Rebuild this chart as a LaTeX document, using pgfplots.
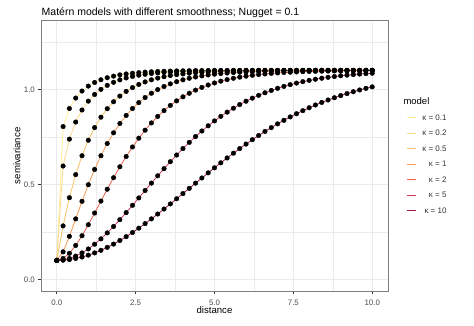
\documentclass[border=0pt]{standalone}
\usepackage{fontspec}
\setmainfont{Liberation Sans}
\usepackage{pgfplots}
\pgfplotsset{compat=1.18}
\usepackage{pgfplotstable}

\definecolor{gridc}{HTML}{EBEBEB}
\definecolor{borderc}{HTML}{7F7F7F}
\definecolor{greyTwenty}{HTML}{333333}
\definecolor{greyThirty}{HTML}{4D4D4D}
\definecolor{matA}{HTML}{FFEE99}
\definecolor{matB}{HTML}{FAD98C}
\definecolor{matC}{HTML}{F5C16A}
\definecolor{matD}{HTML}{F59A56}
\definecolor{matE}{HTML}{EB5F4C}
\definecolor{matF}{HTML}{CF3A52}
\definecolor{matG}{HTML}{9E1B3E}

\pgfplotstableread{
d    k01    k02    k05    k1     k2     k5     k10
0.0  0.1000 0.1000 0.1000 0.1000 0.1000 0.1000 0.1000
0.2  0.8041 0.5965 0.2813 0.1448 0.1098 0.1025 0.1011
0.4  0.8991 0.7379 0.4297 0.2262 0.1371 0.1099 0.1044
0.6  0.9543 0.8280 0.5512 0.3183 0.1784 0.1222 0.1099
0.8  0.9911 0.8914 0.6507 0.4106 0.2297 0.1390 0.1176
1.0  1.0172 0.9380 0.7321 0.4981 0.2876 0.1600 0.1274
1.2  1.0362 0.9731 0.7988 0.5785 0.3492 0.1849 0.1391
1.4  1.0505 1.0001 0.8534 0.6508 0.4120 0.2132 0.1528
1.6  1.0613 1.0209 0.8981 0.7150 0.4744 0.2445 0.1684
1.8  1.0696 1.0372 0.9347 0.7713 0.5349 0.2783 0.1856
2.0  1.0761 1.0500 0.9647 0.8203 0.5925 0.3141 0.2045
2.2  1.0810 1.0600 0.9892 0.8626 0.6466 0.3513 0.2248
2.4  1.0849 1.0680 1.0093 0.8991 0.6968 0.3897 0.2465
2.6  1.0880 1.0744 1.0257 0.9303 0.7430 0.4286 0.2694
2.8  1.0905 1.0794 1.0392 0.9569 0.7851 0.4677 0.2934
3.0  1.0924 1.0835 1.0502 0.9795 0.8232 0.5065 0.3183
3.2  1.0939 1.0867 1.0592 0.9988 0.8575 0.5450 0.3439
3.4  1.0951 1.0893 1.0666 1.0150 0.8881 0.5825 0.3702
3.6  1.0961 1.0914 1.0727 1.0288 0.9154 0.6192 0.3970
3.8  1.0969 1.0930 1.0776 1.0403 0.9394 0.6544 0.4241
4.0  1.0975 1.0944 1.0817 1.0501 0.9608 0.6884 0.4515
4.2  1.0980 1.0955 1.0850 1.0583 0.9795 0.7208 0.4789
4.4  1.0984 1.0963 1.0877 1.0651 0.9959 0.7516 0.5063
4.6  1.0987 1.0970 1.0899 1.0709 1.0103 0.7808 0.5335
4.8  1.0989 1.0976 1.0918 1.0757 1.0228 0.8082 0.5605
5.0  1.0991 1.0981 1.0933 1.0798 1.0336 0.8338 0.5871
5.2  1.0993 1.0984 1.0945 1.0832 1.0431 0.8578 0.6133
5.4  1.0994 1.0987 1.0955 1.0860 1.0512 0.8801 0.6389
5.6  1.0996 1.0990 1.0963 1.0883 1.0583 0.9008 0.6640
5.8  1.0996 1.0992 1.0970 1.0903 1.0643 0.9199 0.6884
6.0  1.0997 1.0993 1.0975 1.0919 1.0695 0.9375 0.7120
6.2  1.0998 1.0995 1.0980 1.0933 1.0740 0.9537 0.7350
6.4  1.0998 1.0996 1.0983 1.0944 1.0779 0.9685 0.7571
6.6  1.0998 1.0996 1.0986 1.0954 1.0812 0.9820 0.7784
6.8  1.0999 1.0997 1.0989 1.0962 1.0840 0.9943 0.7988
7.0  1.0999 1.0998 1.0991 1.0968 1.0864 1.0055 0.8184
7.2  1.0999 1.0998 1.0993 1.0974 1.0885 1.0156 0.8371
7.4  1.0999 1.0998 1.0994 1.0978 1.0902 1.0247 0.8549
7.6  1.1000 1.0999 1.0995 1.0982 1.0917 1.0330 0.8718
7.8  1.1000 1.0999 1.0996 1.0985 1.0930 1.0405 0.8879
8.0  1.1000 1.0999 1.0997 1.0988 1.0941 1.0472 0.9032
8.2  1.1000 1.0999 1.0997 1.0990 1.0950 1.0532 0.9176
8.4  1.1000 1.0999 1.0998 1.0992 1.0958 1.0585 0.9311
8.6  1.1000 1.1000 1.0998 1.0993 1.0964 1.0633 0.9439
8.8  1.1000 1.1000 1.0998 1.0994 1.0970 1.0676 0.9559
9.0  1.1000 1.1000 1.0999 1.0995 1.0975 1.0715 0.9671
9.2  1.1000 1.1000 1.0999 1.0996 1.0979 1.0748 0.9777
9.4  1.1000 1.1000 1.0999 1.0997 1.0982 1.0779 0.9875
9.6  1.1000 1.1000 1.0999 1.0997 1.0985 1.0805 0.9967
9.8  1.1000 1.1000 1.0999 1.0998 1.0987 1.0829 1.0052
10.0 1.1000 1.1000 1.1000 1.0998 1.0989 1.0850 1.0131
}\matern

\begin{document}
\begin{tikzpicture}[x=1pt,y=1pt]
\path[use as bounding box] (0,0) rectangle (474,325);
\begin{axis}[
  at={(41pt,33.3pt)}, anchor=south west,
  scale only axis, width=347pt, height=271.7pt,
  xmin=-0.5, xmax=10.5, ymin=-0.065, ymax=1.365,
  xtick={0,2.5,5,7.5,10}, minor xtick={1.25,3.75,6.25,8.75},
  ytick={0,0.5,1}, minor ytick={0.25,0.75,1.25},
  xticklabels={0.0,2.5,5.0,7.5,10.0}, yticklabels={0.0,0.5,1.0},
  grid=both,
  major grid style={color=gridc, line width=0.8pt},
  minor grid style={color=gridc, line width=0.4pt},
  axis line style={color=borderc, line width=0.7pt},
  tick align=outside, tick pos=left,
  major tick length=2.6pt, minor tick length=0pt,
  every tick/.style={color=greyTwenty, line width=0.6pt},
  tick label style={font=\fontsize{7.9}{9}\selectfont, text=greyThirty},
  xticklabel style={anchor=base, yshift=-11pt},
  yticklabel style={anchor=east},
  xlabel={distance}, ylabel={semivariance},
  label style={font=\fontsize{9.6}{11}\selectfont},
  xlabel style={at={(axis description cs:0.5,-0.0784)}, anchor=base},
  ylabel style={at={(axis description cs:-0.0692,0.5)}, anchor=center},
  legend cell align=right,
  legend image code/.code={\draw[#1, line width=1.1pt] (0pt,0pt) -- (9.5pt,0pt);},
  legend style={at={(axis description cs:1.0519,0.6541)}, anchor=north west,
    draw=none, fill=none, inner sep=0pt, column sep=5.5pt, row sep=8.0pt,
    font=\fontsize{8}{9.6}\selectfont, text=greyTwenty,
    nodes={inner sep=0pt, text height=6pt, text depth=1.5pt}},
  clip=true,
]
\addplot[color=matA, line width=0.8pt] table[x=d,y=k01]{\matern};
\addlegendentry{κ = 0.1}
\addplot[color=matB, line width=0.8pt] table[x=d,y=k02]{\matern};
\addlegendentry{κ = 0.2}
\addplot[color=matC, line width=0.8pt] table[x=d,y=k05]{\matern};
\addlegendentry{κ = 0.5}
\addplot[color=matD, line width=0.8pt] table[x=d,y=k1]{\matern};
\addlegendentry{κ = 1}
\addplot[color=matE, line width=0.8pt] table[x=d,y=k2]{\matern};
\addlegendentry{κ = 2}
\addplot[color=matF, line width=0.8pt] table[x=d,y=k5]{\matern};
\addlegendentry{κ = 5}
\addplot[color=matG, line width=0.8pt] table[x=d,y=k10]{\matern};
\addlegendentry{κ = 10}
\addplot[only marks, mark=*, mark size=2.3pt, black, forget plot] table[x=d,y=k01]{\matern};
\addplot[only marks, mark=*, mark size=2.3pt, black, forget plot] table[x=d,y=k02]{\matern};
\addplot[only marks, mark=*, mark size=2.3pt, black, forget plot] table[x=d,y=k05]{\matern};
\addplot[only marks, mark=*, mark size=2.3pt, black, forget plot] table[x=d,y=k1]{\matern};
\addplot[only marks, mark=*, mark size=2.3pt, black, forget plot] table[x=d,y=k2]{\matern};
\addplot[only marks, mark=*, mark size=2.3pt, black, forget plot] table[x=d,y=k5]{\matern};
\addplot[only marks, mark=*, mark size=2.3pt, black, forget plot] table[x=d,y=k10]{\matern};
\end{axis}
\node[anchor=base west, font=\fontsize{10.5}{12}\selectfont, inner sep=0pt] at (41.5,310) {Matérn models with different smoothness; Nugget = 0.1};
\node[anchor=base west, font=\fontsize{9.5}{11}\selectfont, inner sep=0pt] at (403.3,221) {model};
\end{tikzpicture}
\end{document}
